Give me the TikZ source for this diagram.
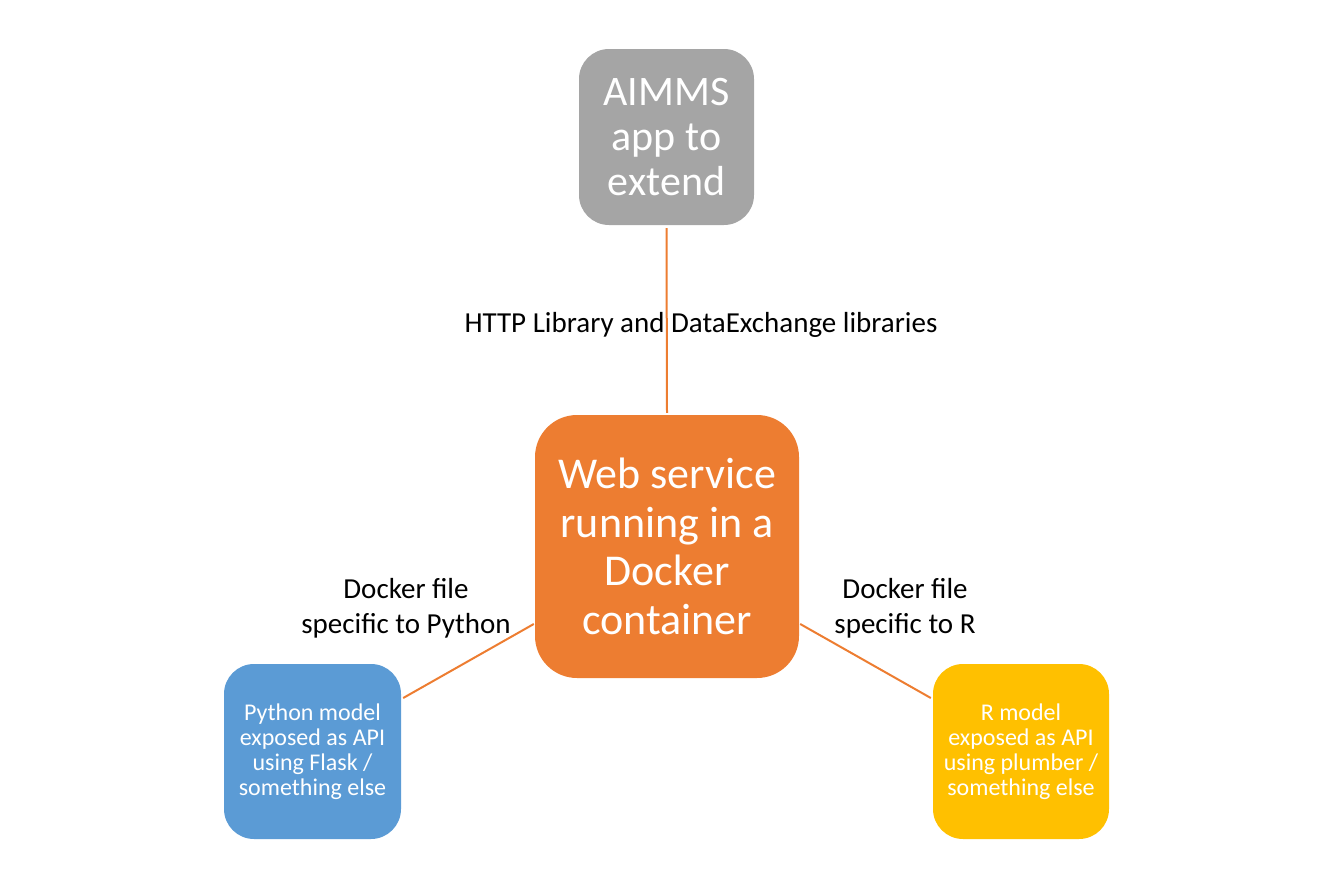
\documentclass[tikz,border=0pt]{standalone}
\usepackage{fontspec}
\setmainfont{Carlito}
\definecolor{boxgray}{HTML}{A5A5A5}
\definecolor{boxorange}{HTML}{ED7D31}
\definecolor{boxblue}{HTML}{5B9BD5}
\definecolor{boxyellow}{HTML}{FFC000}
\begin{document}
\begin{tikzpicture}[x=1pt,y=-1pt,
  box/.style={rounded corners=30pt, inner sep=0pt, text=white, align=center},
  link/.style={draw=boxorange, line width=2pt},
  lbl/.style={align=center, text=black, font=\fontsize{29}{35}\selectfont}]
\useasboundingbox (0,0) rectangle (1334,889);
\node[box, fill=boxgray, minimum width=175pt, minimum height=176pt,
  font=\fontsize{42}{45}\selectfont] (aimms) at (666.5,137) {AIMMS\\app to\\extend};
\node[box, fill=boxorange, rounded corners=42pt, minimum width=264pt, minimum height=263pt,
  font=\fontsize{44}{48.5}\selectfont] (ws) at (667,546.5) {Web service\\running in a\\Docker\\container};
\node[box, fill=boxblue, minimum width=177pt, minimum height=175pt,
  font=\fontsize{24}{25}\selectfont] (py) at (312.5,751.5) {Python model\\exposed as API\\using Flask /\\something else};
\node[box, fill=boxyellow, minimum width=176pt, minimum height=175pt,
  font=\fontsize{24}{25}\selectfont] (r) at (1021,751.5) {R model\\exposed as API\\using plumber /\\something else};
\draw[link] ([yshift=-3pt]aimms.south) -- ([yshift=2pt]ws.north);
\draw[link] ([xshift=-1pt,yshift=-77.5pt]ws.west) -- ([xshift=2pt,yshift=53.5pt]py.east);
\draw[link] ([xshift=1pt,yshift=-77.5pt]ws.east) -- ([xshift=-2pt,yshift=53.5pt]r.west);
\node[lbl] (lhttp) at (701,325) {HTTP Library and DataExchange libraries};
\node[lbl] (lpy) at (406,608) {Docker file\\specific to Python};
\node[lbl] (lr) at (905,608) {Docker file\\specific to R};
\end{tikzpicture}
\end{document}
